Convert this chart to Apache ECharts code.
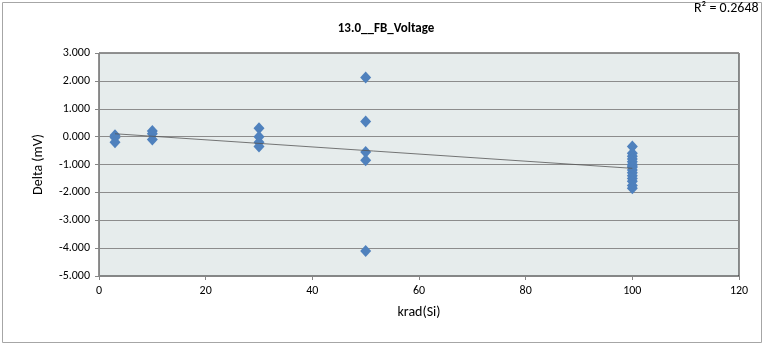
<!DOCTYPE html>
<html>
<head>
<meta charset="utf-8">
<script src="https://cdn.jsdelivr.net/npm/echarts@6/dist/echarts.min.js"></script>
<style>
  html, body { margin: 0; padding: 0; background: #fff; }
  #main { width: 765px; height: 346px; }
</style>
</head>
<body>
<div id="main"></div>
<script>
  // 数据 (krad(Si), delta mV)
  var doseX = [3, 3, 3, 10, 10, 10, 30, 30, 30, 30, 50, 50, 50, 50, 50,
    100, 100, 100, 100, 100, 100, 100, 100, 100, 100, 100, 100, 100, 100, 100];
  var deltaY = [0.05, -0.03, -0.2, 0.2, 0.1, -0.1, 0.3, 0.0, -0.2, -0.35, 2.12, 0.54, -0.55, -0.85, -4.1,
    -0.35, -0.6, -0.7, -0.8, -0.9, -1.0, -1.05, -1.1, -1.2, -1.3, -1.4, -1.5, -1.6, -1.75, -1.85];
  var xTicks = [0, 20, 40, 60, 80, 100, 120];
  var yTicks = [-5, -4, -3, -2, -1, 0, 1, 2, 3];

  var points = [];
  for (var i = 0; i < doseX.length; i++) {
    points.push([doseX[i], deltaY[i]]);
  }

  // 线性趋势线 (最小二乘)
  var n = doseX.length, sx = 0, sy = 0, sxx = 0, sxy = 0;
  for (var j = 0; j < n; j++) {
    sx += doseX[j]; sy += deltaY[j];
    sxx += doseX[j] * doseX[j]; sxy += doseX[j] * deltaY[j];
  }
  var slope = (n * sxy - sx * sy) / (n * sxx - sx * sx);
  var icpt = (sy - slope * sx) / n;
  var xMin = Math.min.apply(null, doseX), xMax = Math.max.apply(null, doseX);
  var trend = [[xMin, icpt + slope * xMin], [xMax, icpt + slope * xMax]];

  var myChart = echarts.init(document.getElementById('main'));
  var font = 'Carlito, "Liberation Sans", Arial, sans-serif';

  var option = {
    animation: false,
    graphic: [
      {
        type: 'rect',
        shape: { x: 2.5, y: 2.5, width: 759, height: 340 },
        style: { fill: 'none', stroke: '#a6a6a6', lineWidth: 1 }
      },
      {
        type: 'text', left: 694, top: 1,
        style: { text: 'R² = 0.2648', fontSize: 14, fontFamily: font, fill: '#000' }
      }
    ],
    title: {
      text: '13.0__FB_Voltage',
      left: 381, top: 17, textAlign: 'center',
      textStyle: { fontSize: 13, fontWeight: 'bold', fontFamily: font, color: '#000' }
    },
    grid: {
      left: 99, right: 26, top: 53, bottom: 70,
      show: true, backgroundColor: '#e6ecec', borderColor: '#222', borderWidth: 1
    },
    xAxis: {
      type: 'value', min: 0, max: 120, interval: 20,
      name: 'krad(Si)', nameLocation: 'middle', nameGap: 29,
      nameTextStyle: { fontSize: 14, fontFamily: font, color: '#000' },
      axisLine: { onZero: false, lineStyle: { color: '#868686', width: 1 } },
      axisTick: { show: true, length: 4, lineStyle: { color: '#868686' } },
      axisLabel: { fontSize: 12, fontFamily: font, color: '#000', margin: 9 },
      splitLine: { show: false }
    },
    yAxis: {
      type: 'value', min: -5, max: 3, interval: 1,
      name: 'Delta (mV)', nameLocation: 'middle', nameGap: 54,
      nameTextStyle: { fontSize: 14, fontFamily: font, color: '#000' },
      axisLine: { show: true, lineStyle: { color: '#868686', width: 1 } },
      axisTick: { show: true, length: 4, lineStyle: { color: '#868686' } },
      axisLabel: {
        fontSize: 12, fontFamily: font, color: '#000', margin: 9,
        formatter: function (v) { return v.toFixed(3); }
      },
      splitLine: { show: true, lineStyle: { color: '#8c8c8c', width: 1 } }
    },
    series: [
      {
        name: 'data',
        type: 'scatter',
        symbol: 'diamond',
        symbolSize: [11, 12],
        itemStyle: { color: '#4f81bd', opacity: 1 },
        data: points,
        z: 3
      },
      {
        name: 'trend',
        type: 'line',
        symbol: 'none',
        lineStyle: { color: '#555', width: 0.8 },
        data: trend,
        z: 4
      }
    ]
  };

  myChart.setOption(option);
</script>
</body>
</html>
